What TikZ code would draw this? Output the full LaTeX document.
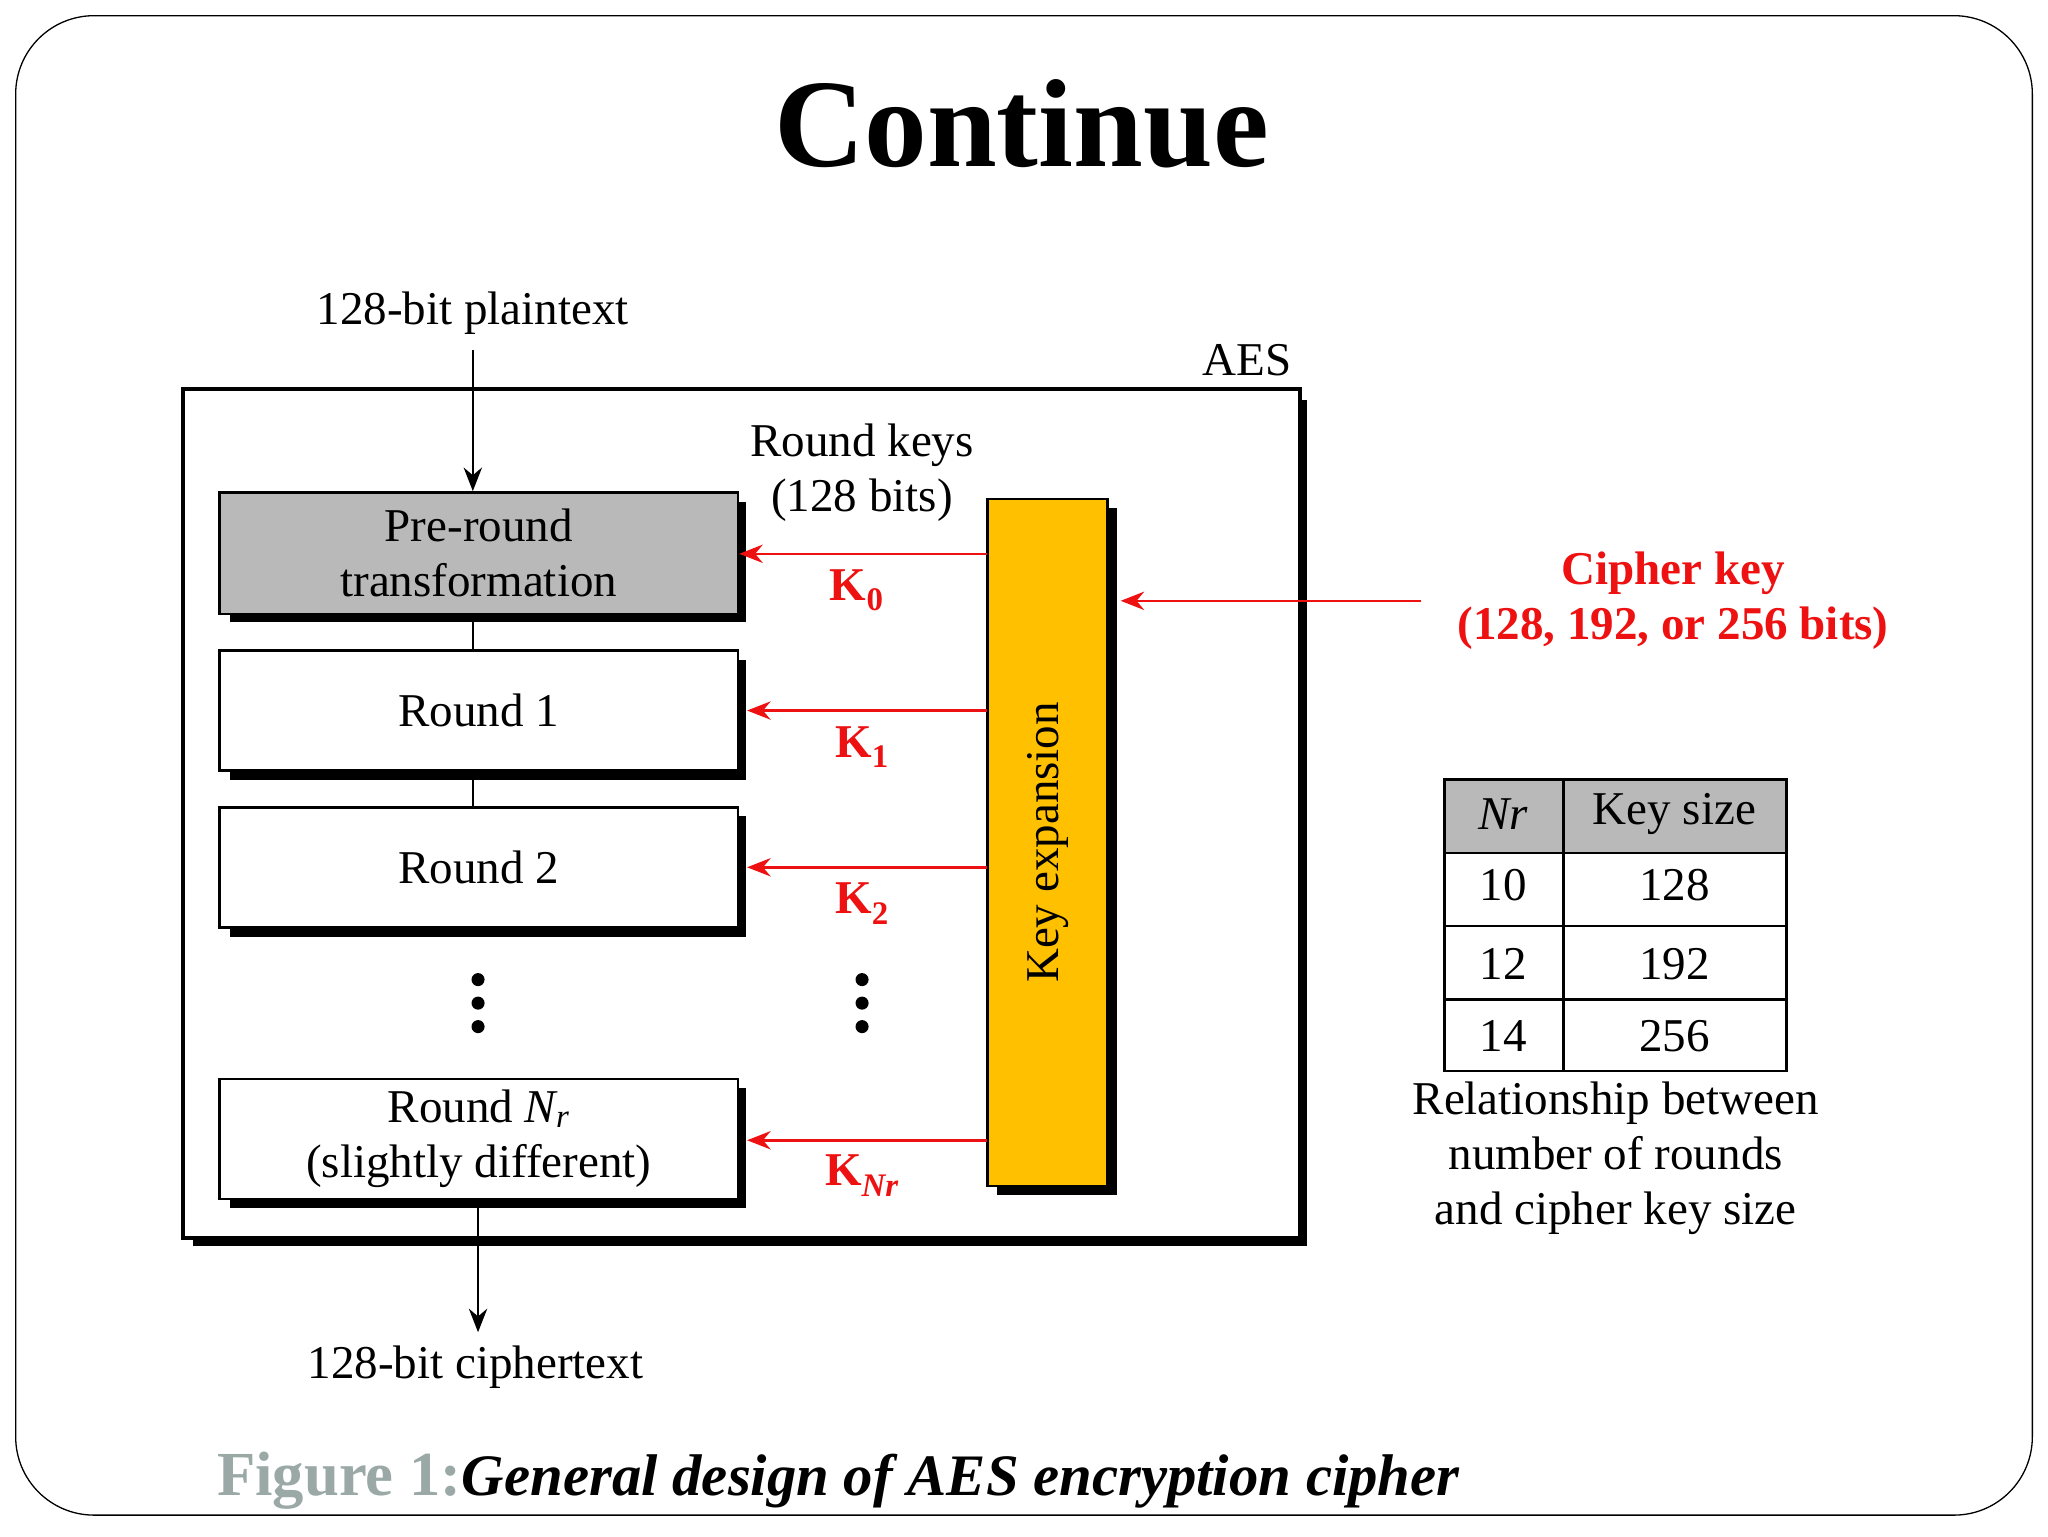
\documentclass[tikz,border=0pt]{standalone}
\usepackage{fontspec}
\setmainfont{Liberation Serif}
\usetikzlibrary{arrows.meta}
\definecolor{kred}{HTML}{EE1111}
\definecolor{korange}{HTML}{FFC000}
\definecolor{figgray}{HTML}{9AA8A6}
\tikzset{
 txt/.style={font=\fontsize{36}{42}\selectfont,align=center,inner sep=0},
 rbox/.style={draw,line width=2pt,fill=white},
 arr/.style={line width=2pt,-{Stealth[length=18pt,width=14pt]}},
 rarr/.style={arr,draw=kred},
 klab/.style={font=\fontsize{36}{40}\selectfont\bfseries,text=kred,inner sep=0},
 dot/.style={fill=black,circle,inner sep=0,minimum size=10pt},
}
\begin{document}
\begin{tikzpicture}[x=1pt,y=-1pt]
\useasboundingbox (0,0) rectangle (1568,1176);
\draw[line width=1pt,rounded corners=60pt] (12,12) rectangle (1556,1160);
\node[inner sep=0,font=\fontsize{96}{100}\selectfont\bfseries] (title) at (782,95) {Continue};
% AES box
\fill (148,306) rectangle (1001,954);
\draw[rbox,line width=3pt] (140,298) rectangle (995,948);
\node[txt] (aes) at (955,276) {AES};
\node[txt] (pt) at (362,240) {128-bit plaintext};
% boxes
\fill[black] (176,384) rectangle (571,476);
\node[draw,line width=2pt,fill=gray!55,minimum width=397pt,minimum height=93pt,txt] (pre) at (366.5,423.5) {Pre-round\\transformation};
\fill (176,505) rectangle (571,597);
\node[rbox,minimum width=397pt,minimum height=92pt,txt] (r1) at (366.5,544) {Round 1};
\fill (176,625) rectangle (571,717);
\node[rbox,minimum width=397pt,minimum height=92pt,txt] (r2) at (366.5,664) {Round 2};
\fill (176,833) rectangle (571,925);
\node[rbox,minimum width=397pt,minimum height=92pt,txt] (rn) at (366.5,872) {Round \textit{N\textsubscript{r}}\\(slightly different)};
\foreach \x/\n in {366/a,660/b}{
 \node[dot] (\n1) at (\x,750) {}; \node[dot] (\n2) at (\x,768) {}; \node[dot] (\n3) at (\x,786) {};}
\coordinate (ptb) at (362,268);
\draw[arr] (ptb) -- (pre.north-|ptb);
\draw[line width=2pt] (pre.south-|ptb) -- (r1.north-|ptb);
\draw[line width=2pt] (r1.south-|ptb) -- (r2.north-|ptb);
\node[txt] (ct) at (364,1047) {128-bit ciphertext};
\coordinate (cta) at (366,1020);
\draw[arr] (rn.south-|cta) -- (cta);
% key expansion
\fill (763,389) rectangle (855,915);
\node[draw,line width=2pt,fill=korange,minimum width=92pt,minimum height=526pt] (ke) at (802,645) {};
\node[txt,rotate=90] (ket) at (802,645) {Key expansion};
\node[txt] (rk) at (660,362) {Round keys\\(128 bits)};
\coordinate (k0) at (756,424); \coordinate (k1) at (756,544);
\coordinate (k2) at (756,664); \coordinate (kn) at (756,873);
\draw[rarr] (k0) -- (pre.east|-k0);
\draw[rarr] (k1) -- (572,544);
\draw[rarr] (k2) -- (572,664);
\draw[rarr] (kn) -- (572,873);
\node[klab] (l0) at (656,452) {K\textsubscript{0}};
\node[klab] (l1) at (660,572) {K\textsubscript{1}};
\node[klab] (l2) at (660,692) {K\textsubscript{2}};
\node[klab] (ln) at (660,900) {K\textsubscript{\textit{Nr}}};
\coordinate (cs) at (1088,460);
\draw[rarr] (cs) -- (858,460);
\node[klab,align=center,font=\fontsize{36}{42}\selectfont\bfseries] (ck) at (1281,460) {Cipher key\\(128, 192, or 256 bits)};
% table
\fill[gray!55] (1106,597) rectangle (1368,653);
\draw[line width=2pt] (1106,597) rectangle (1368,820);
\foreach \y in {653,709,765} \draw[line width=2pt] (1106,\y) -- (1368,\y);
\draw[line width=2pt] (1197,597) -- (1197,820);
\node[txt] (h1) at (1151,623) {\textit{Nr}};
\node[txt] (h2) at (1282,623) {Key size};
\node[txt] (a1) at (1151,678) {10}; \node[txt] (b1) at (1282,678) {128};
\node[txt] (a2) at (1151,738) {12}; \node[txt] (b2) at (1282,738) {192};
\node[txt] (a3) at (1151,793) {14}; \node[txt] (b3) at (1282,793) {256};
\node[txt,font=\fontsize{36}{42}\selectfont] (cap) at (1237,887) {Relationship between\\number of rounds\\and cipher key size};
\node[anchor=base west,inner sep=0,font=\fontsize{48}{48}\selectfont\bfseries,text=figgray] (fig) at (166,1145) {Figure 1:};
\node[anchor=base west,inner sep=0,font=\fontsize{45}{48}\selectfont\bfseries\itshape] (figt) at (fig.base east) {General design of AES encryption cipher};
\end{tikzpicture}
\end{document}
